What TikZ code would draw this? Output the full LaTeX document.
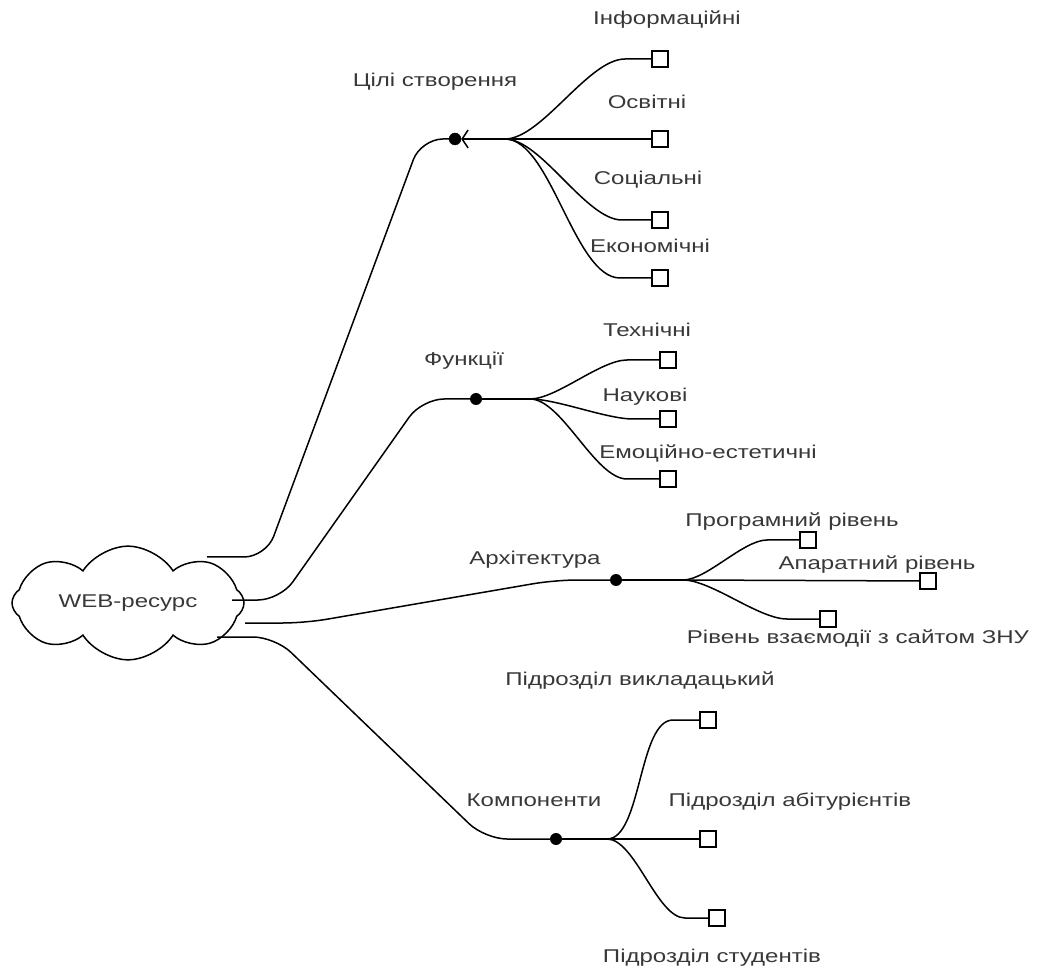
\documentclass[tikz,border=0pt]{standalone}
\usepackage{fontspec}
\setmainfont[FakeStretch=1.3]{Liberation Sans}
\usetikzlibrary{shapes.symbols,arrows.meta}

\tikzset{
  leaf/.style={draw, fill=white, minimum size=16pt, inner sep=0pt, line width=1.4pt},
  knot/.style={circle, fill, minimum size=12pt, inner sep=0pt},
  lbl/.style={font=\fontsize{18.5}{20}\selectfont, text=black!78},
  link/.style={line width=1.5pt, rounded corners=22pt},
  twig/.style={line width=1.5pt},
  scurve/.style={out=0, in=180, looseness=0.65},
}

\begin{document}
\begin{tikzpicture}[x=1pt,y=-1pt]
\useasboundingbox (0,0) rectangle (1037,973);

% Central cloud
\node[cloud, draw, line width=1.5pt, cloud puffs=8, cloud puff arc=115, aspect=2.5, minimum width=232pt, minimum height=88pt, inner sep=0pt, lbl] (web) at (128,603) {WEB-ресурс};

% Start points on the cloud
\coordinate (w1) at (207,557);
\coordinate (w2) at (232,600);
\coordinate (w3) at (245,623);
\coordinate (w4) at (217,637);

% Goals
\node[knot, draw] (g) at (455,139) {};
\coordinate (gs) at (505,139);
\node[lbl] (gl) at (435,82) {Цілі створення};
\draw[link] (w1) -- (266,557) -- (421,139) -- (g);
\draw[twig, -{Straight Barb[length=6pt, width=18pt]}] (gs) -- (g);
\foreach \i/\yy/\xx in {1/59/625, 2/139/625, 3/220/622, 4/278/620} {
    \node[leaf] (g\i) at (660,\yy) {};
    \draw[twig] (gs) to[scurve] (\xx,\yy) -- (g\i);
}
\node[lbl] (gl1) at (667,20) {Інформаційні};
\node[lbl] (gl2) at (647,102) {Освітні};
\node[lbl] (gl3) at (648,180) {Соціальні};
\node[lbl] (gl4) at (650,246) {Економічні};

% Functions
\node[knot] (f) at (476,399) {};
\coordinate (fs) at (530,399);
\node[lbl] (fl) at (464,361) {Функції};
\draw[link] (w2) -- (280,600) -- (422,399) -- (f);
\draw[twig] (f) -- (fs);
\foreach \i/\yy/\xx in {1/360/627, 2/419/633, 3/479/627} {
    \node[leaf] (f\i) at (668,\yy) {};
    \draw[twig] (fs) to[scurve] (\xx,\yy) -- (f\i);
}
\node[lbl] (fl1) at (647,330) {Технічні};
\node[lbl] (fl2) at (645,397) {Наукові};
\node[lbl] (fl3) at (708,453) {Емоційно-естетичні};

% Architecture
\node[knot] (a) at (616,580) {};
\coordinate (as) at (683,580);
\node[lbl] (al) at (535,560) {Архітектура};
\draw[link] (w3) -- (305,623) -- (555,580) -- (a);
\draw[line width=2.8pt] (a) -- (as);
\node[leaf] (a1) at (808,540) {};
\node[leaf] (a2) at (928,581) {};
\node[leaf] (a3) at (828,619) {};
\draw[twig] (as) to[scurve] (767,540) -- (a1);
\draw[twig] (as) -- (a2);
\draw[twig] (as) to[scurve] (787,619) -- (a3);
\node[lbl] (al1) at (792,522) {Програмний рівень};
\node[lbl] (al2) at (877,565) {Апаратний рівень};
\node[lbl] (al3) at (858,638) {Рівень взаємодії з сайтом ЗНУ};

% Components
\node[knot] (c) at (556,839) {};
\coordinate (cs) at (607,839);
\node[lbl] (cl) at (534,800) {Компоненти};
\draw[link] (w4) -- (275,637) -- (485,839) -- (c);
\draw[twig] (c) -- (cs);
\node[leaf] (c1) at (708,720) {};
\node[leaf] (c2) at (708,839) {};
\node[leaf] (c3) at (717,918) {};
\draw[twig] (cs) to[scurve] (673,720) -- (c1);
\draw[twig] (cs) -- (c2);
\draw[twig] (cs) to[scurve] (685,918) -- (c3);
\node[lbl] (cl1) at (640,681) {Підрозділ викладацький};
\node[lbl] (cl2) at (790,802) {Підрозділ абітурієнтів};
\node[lbl] (cl3) at (712,958) {Підрозділ студентів};

\end{tikzpicture}
\end{document}
